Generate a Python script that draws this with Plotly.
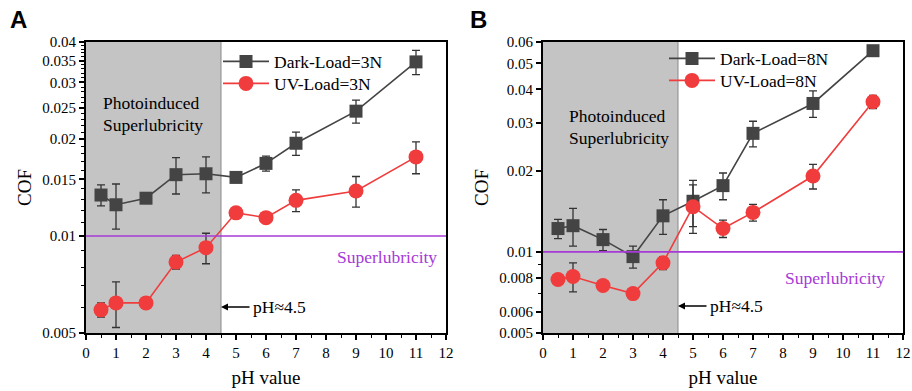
import plotly.graph_objects as go
import numpy as np

# ---------------- data ----------------
ph = [0.5, 1, 2, 3, 4, 5, 6, 7, 9, 11]

dark_3n = [0.0134, 0.0125, 0.0131, 0.0155, 0.0156, 0.0152, 0.0168, 0.0194, 0.0244, 0.0347]
dark_3n_err = [0.0010, 0.0020, 0.0003, 0.0020, 0.0020, 0.0003, 0.0009, 0.0016, 0.0020, 0.0030]
uv_3n = [0.0059, 0.0062, 0.0062, 0.0083, 0.0092, 0.0118, 0.0114, 0.0129, 0.0138, 0.0176]
uv_3n_err = [0.0003, 0.0010, 0.0002, 0.0004, 0.0010, 0.0002, 0.0002, 0.0010, 0.0015, 0.0020]

dark_8n = [0.0122, 0.0125, 0.0111, 0.0096, 0.0136, 0.0154, 0.0176, 0.0275, 0.0355, 0.0557]
dark_8n_err = [0.0010, 0.0020, 0.0010, 0.0009, 0.0020, 0.0030, 0.0020, 0.0030, 0.0040, 0.0025]
uv_8n = [0.0079, 0.0081, 0.0075, 0.0070, 0.0091, 0.0147, 0.0122, 0.0140, 0.0191, 0.0360]
uv_8n_err = [0.0003, 0.0010, 0.0003, 0.0003, 0.0005, 0.0030, 0.0009, 0.0010, 0.0020, 0.0020]

x_ticks = list(range(0, 13))
yA_ticks = [0.005, 0.01, 0.015, 0.02, 0.025, 0.03, 0.035, 0.04]
yA_tick_text = ["0.005", "0.01", "0.015", "0.02", "0.025", "0.03", "0.035", "0.04"]
yB_ticks = [0.005, 0.006, 0.008, 0.01, 0.02, 0.03, 0.04, 0.05, 0.06]
yB_tick_text = ["0.005", "0.006", "0.008", "0.01", "0.02", "0.03", "0.04", "0.05", "0.06"]
yA_range = [0.005, 0.04]
yB_range = [0.005, 0.06]
superlub_level = 0.01
boundary_ph = 4.5

# ---------------- style ----------------
W, H = 912, 391
SERIF = "Liberation Serif"
DARK = "#444444"
RED = "#f03c3c"
PURPLE = "#a63ad6"
SHADE = "#c4c4c4"
ERRC = "#333333"

def px_x(p):
    return p / W

def px_y(p):
    return 1 - p / H

fig = go.Figure()

def add_panel(xa, ya, dark, dark_err, uv, uv_err, dname, uname, leg_d, leg_u):
    fig.add_trace(go.Scatter(
        x=ph, y=dark, mode="lines+markers", name=dname,
        xaxis=xa, yaxis=ya, legend=leg_d,
        line=dict(color=DARK, width=1.6),
        marker=dict(symbol="square", size=13, color=DARK),
        error_y=dict(type="data", array=dark_err, color=ERRC, thickness=1.3, width=4),
    ))
    fig.add_trace(go.Scatter(
        x=ph, y=uv, mode="lines+markers", name=uname,
        xaxis=xa, yaxis=ya, legend=leg_u,
        line=dict(color=RED, width=1.6),
        marker=dict(symbol="circle", size=15, color=RED),
        error_y=dict(type="data", array=uv_err, color=ERRC, thickness=1.3, width=4),
    ))
    # superlubricity threshold line
    fig.add_trace(go.Scatter(
        x=[x_ticks[0], x_ticks[-1]], y=[superlub_level, superlub_level],
        mode="lines", xaxis=xa, yaxis=ya, showlegend=False, hoverinfo="skip",
        line=dict(color=PURPLE, width=1.6),
    ))

add_panel("x", "y", dark_3n, dark_3n_err, uv_3n, uv_3n_err,
          "Dark-Load=3N", "UV-Load=3N", "legend", "legend2")
add_panel("x2", "y2", dark_8n, dark_8n_err, uv_8n, uv_8n_err,
          "Dark-Load=8N", "UV-Load=8N", "legend3", "legend4")

ydom = [px_y(333), px_y(42)]
xdomA = [px_x(86), px_x(446)]
xdomB = [px_x(543), px_x(903)]

def xaxis_cfg(dom, anchor):
    return dict(
        domain=dom, anchor=anchor, range=[0, 12], tickvals=x_ticks, automargin=False,
        ticks="outside", ticklen=5, tickwidth=1.5, tickcolor="black",
        showline=True, linewidth=2, linecolor="black", mirror=True,
        showgrid=False, zeroline=False,
        tickfont=dict(family=SERIF, size=15, color="black"),
        title=dict(text="pH value", font=dict(family=SERIF, size=19, color="black"), standoff=11),
        minor=dict(tickvals=[i + 0.5 for i in range(12)], ticks="outside", ticklen=3,
                   tickwidth=1.2, tickcolor="black"),
    )

def yaxis_cfg(dom, anchor, rng, tv, tt, minor_vals):
    return dict(
        domain=dom, anchor=anchor, type="log", automargin=False,
        range=[np.log10(rng[0]), np.log10(rng[1])],
        tickvals=tv, ticktext=tt,
        ticks="outside", ticklen=5, tickwidth=1.5, tickcolor="black",
        showline=True, linewidth=2, linecolor="black", mirror=True,
        showgrid=False, zeroline=False,
        tickfont=dict(family=SERIF, size=15, color="black"),
        title=dict(text="COF", font=dict(family=SERIF, size=19, color="black"), standoff=6),
        minor=dict(tickvals=minor_vals, ticks="outside", ticklen=3,
                   tickwidth=1.2, tickcolor="black"),
    )

minorA = [round(0.005 + 0.001 * i, 4) for i in range(0, 6)] + \
         [round(0.01 + 0.001 * i, 4) for i in range(1, 31)]
minorB = [0.007, 0.009]

def leg(xp, yp):
    return dict(x=px_x(xp), y=px_y(yp), xanchor="left", yanchor="middle",
                bgcolor="rgba(0,0,0,0)", font=dict(family=SERIF, size=17.5, color="black"),
                itemwidth=46, tracegroupgap=0)

fig.update_layout(
    width=W, height=H,
    margin=dict(l=0, r=0, t=0, b=0, autoexpand=False),
    paper_bgcolor="white", plot_bgcolor="white",
    xaxis=xaxis_cfg(xdomA, "y"),
    yaxis=yaxis_cfg(ydom, "x", yA_range, yA_tick_text and yA_ticks, yA_tick_text, minorA),
    xaxis2=xaxis_cfg(xdomB, "y2"),
    yaxis2=yaxis_cfg(ydom, "x2", yB_range, yB_ticks, yB_tick_text, minorB),
    legend=leg(218, 61.5),
    legend2=leg(218, 83.5),
    legend3=leg(664, 58.5),
    legend4=leg(664, 80.5),
    showlegend=True,
)

shapes = []
for xr in ["x", "x2"]:
    yr = "y domain" if xr == "x" else "y2 domain"
    shapes.append(dict(type="rect", xref=xr, yref=yr, x0=0, x1=boundary_ph, y0=0, y1=1,
                       fillcolor=SHADE, line=dict(width=0), layer="below"))
    shapes.append(dict(type="line", xref=xr, yref=yr, x0=boundary_ph, x1=boundary_ph, y0=0, y1=1,
                       line=dict(color="#8a8a8a", width=1), layer="below"))
fig.update_layout(shapes=shapes)

ann = []
LETTER_FONT = dict(family="Liberation Sans, Arial, sans-serif", size=24, color="black")
ann.append(dict(text="<b>A</b>", xref="paper", yref="paper", x=px_x(8), y=px_y(20),
                xanchor="left", yanchor="middle", showarrow=False, font=LETTER_FONT))
ann.append(dict(text="<b>B</b>", xref="paper", yref="paper", x=px_x(468), y=px_y(20),
                xanchor="left", yanchor="middle", showarrow=False, font=LETTER_FONT))

TXT = dict(family=SERIF, size=17.5, color="black")
PTXT = dict(family=SERIF, size=17.5, color=PURPLE)
for (x0, y1, y2) in [(101, 103, 125), (567, 116, 138)]:
    ann.append(dict(text="Photoinduced", xref="paper", yref="paper", x=px_x(x0), y=px_y(y1),
                    xanchor="left", yanchor="middle", showarrow=False, font=TXT))
    ann.append(dict(text="Superlubricity", xref="paper", yref="paper", x=px_x(x0), y=px_y(y2),
                    xanchor="left", yanchor="middle", showarrow=False, font=TXT))

ann.append(dict(text="Superlubricity", xref="paper", yref="paper",
                x=px_x(439), y=px_y(257), xanchor="right", yanchor="middle",
                showarrow=False, font=PTXT))
ann.append(dict(text="Superlubricity", xref="paper", yref="paper",
                x=px_x(887), y=px_y(278), xanchor="right", yanchor="middle",
                showarrow=False, font=PTXT))

for xr, ypix in [("x", 307), ("x2", 306)]:
    ann.append(dict(text="", xref=xr, yref="paper", x=boundary_ph, y=px_y(ypix),
                    showarrow=True, arrowhead=2, arrowsize=1, arrowwidth=1.4,
                    arrowcolor="black", ax=30, ay=0, standoff=0))
    ann.append(dict(text="pH≈4.5", xref=xr, yref="paper", x=boundary_ph, y=px_y(ypix),
                    xanchor="left", yanchor="middle", xshift=30, showarrow=False,
                    font=TXT))
fig.update_layout(annotations=ann)

fig.write_html("out.html")
